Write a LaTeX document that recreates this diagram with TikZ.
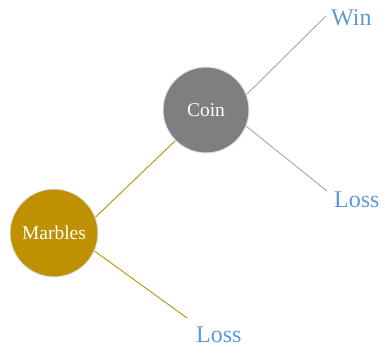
\documentclass[tikz,border=0pt]{standalone}
\usepackage{fontspec}
\setmainfont{Liberation Serif}
\definecolor{gold}{HTML}{BF9000}
\definecolor{coingray}{HTML}{7F7F7F}
\definecolor{linegray}{HTML}{A6A6A6}
\definecolor{lblue}{HTML}{5B9BD5}
\definecolor{rim}{HTML}{DCE6F2}
\tikzset{
  ball/.style={circle, draw=rim, line width=1pt, inner sep=0pt, text=white, font=\fontsize{19.5}{21}\selectfont},
  outcome/.style={text=lblue, font=\fontsize{24}{28}\selectfont, inner sep=0pt, anchor=base west},
  goldline/.style={draw=gold, line width=0.9pt},
  grayline/.style={draw=linegray, line width=0.9pt}
}
\begin{document}
\begin{tikzpicture}[x=1pt,y=-1pt]
\useasboundingbox (0,0) rectangle (385,354);
\node[ball, fill=coingray, minimum size=86pt] (coin) at (206,110) {Coin};
\node[ball, fill=gold, minimum size=88pt] (marbles) at (54,233) {Marbles};
\node[outcome] (win) at (331,25) {Win};
\node[outcome] (loss1) at (334,207) {Loss};
\node[outcome] (loss2) at (196,342) {Loss};
\coordinate (wend) at (326,16);
\coordinate (l1end) at (327,191);
\coordinate (l2end) at (187,318);
\draw[grayline] (coin.21) -- (wend);
\draw[grayline] (coin.-22) -- (l1end);
\draw[goldline] (marbles.21) -- (coin.225);
\draw[goldline] (marbles.-24) -- (l2end);
\end{tikzpicture}
\end{document}
